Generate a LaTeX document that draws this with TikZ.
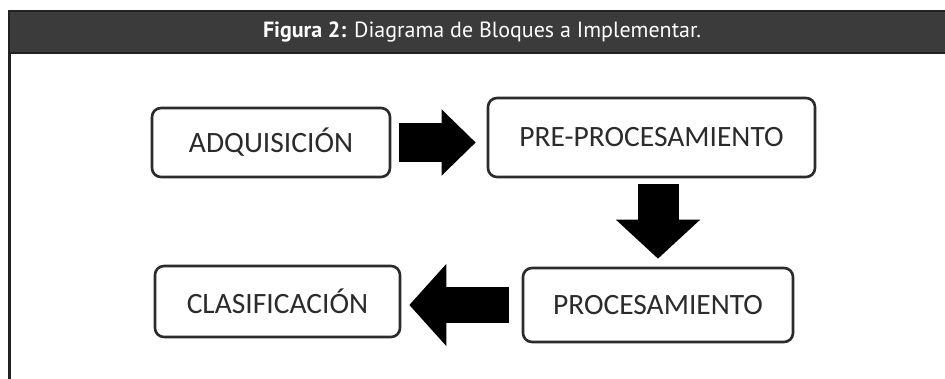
\documentclass[tikz,border=0pt]{standalone}
\usepackage{fontspec}
\setmainfont{Carlito}
\newfontfamily\headfont{PT Sans}
\usepackage{tikz}
\usetikzlibrary{arrows.meta, positioning, calc}

\definecolor{headgray}{HTML}{3B3B3B}
\definecolor{edgegray}{HTML}{222222}
\definecolor{boxgray}{HTML}{2B2B2B}

\begin{document}
\begin{tikzpicture}[x=1pt, y=-1pt,
    block/.style={draw=boxgray, line width=2.6pt, rounded corners=9pt,
                  fill=white, text=boxgray, align=center,
                  font=\fontsize{29.5}{32}\selectfont},
    fat/.style={line width=#1, -{Triangle[length=34pt, width=64pt]}},
  ]
  \useasboundingbox (0,0) rectangle (945,379);
  \fill[white] (0,0) rectangle (945,379);

  % caption bar
  \node[draw=edgegray, line width=2pt, fill=headgray, minimum width=938pt,
        minimum height=42pt, anchor=north west, inner sep=0pt] (bar) at (8,10) {};
  \node[text=white, font=\headfont\fontsize{22}{26}\selectfont] (title) at (482,32)
    {\textbf{Figura 2:} Diagrama de Bloques a Implementar.};
  \draw[edgegray, line width=3pt] (bar.south west) ++(1.5,0) -- ++(0,330);

  % top row
  \node[block, minimum width=238pt, minimum height=69pt] (adq) at (271,142.5) {ADQUISICIÓN};
  \node[block, minimum width=327pt, minimum height=79pt] (pre) at (651.5,137.5) {PRE-PROCESAMIENTO};

  % bottom row
  \node[block, minimum width=270pt, minimum height=74pt] (proc) at (658,305) {PROCESAMIENTO};
  \node[block, minimum width=245pt, minimum height=71pt] (clas) at (277.5,301.5) {CLASIFICACIÓN};

  % fat arrows
  \draw[fat=39pt, shorten <=8pt, shorten >=11pt] (adq.east) -- (adq.east -| pre.west);
  \draw[fat=41pt, -{Triangle[length=39pt, width=82pt]}, shorten <=6pt, shorten >=8pt]
    (pre.south -| proc.north) -- (proc.north);
  \draw[fat=36pt, -{Triangle[length=37pt, width=80pt]}, shorten <=13pt, shorten >=8pt]
    (proc.west) -- (proc.west -| clas.east);
\end{tikzpicture}
\end{document}
